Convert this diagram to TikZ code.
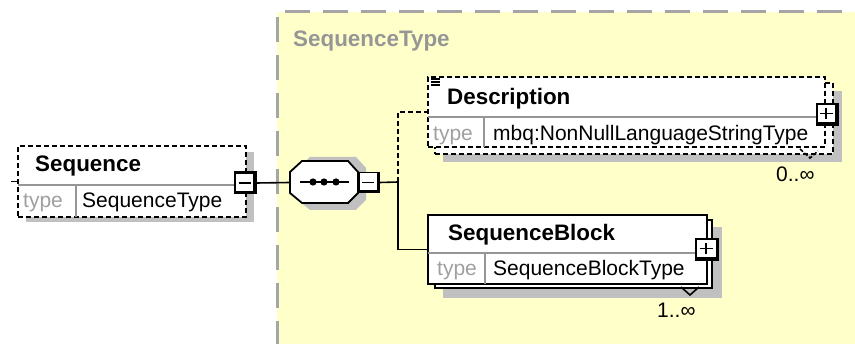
\documentclass[tikz,border=0pt]{standalone}
\usepackage{fontspec}
\setmainfont{Liberation Sans}
\usetikzlibrary{calc}
\definecolor{ybg}{RGB}{255,255,202}
\definecolor{ybord}{RGB}{165,165,165}
\definecolor{shad}{RGB}{192,192,192}
\definecolor{typegray}{RGB}{160,160,160}
\definecolor{titlegray}{RGB}{150,150,150}
\definecolor{divgray}{RGB}{150,150,150}
\begin{document}
\begin{tikzpicture}[x=1pt,y=-1pt,
  reg/.style={font=\fontsize{21}{24}\selectfont, inner sep=0pt, anchor=base west},
  nm/.style={font=\fontsize{22.4}{26}\selectfont\bfseries, inner sep=0pt, anchor=base west},
  typelbl/.style={reg, text=typegray},
  shadowbox/.style={fill=shad},
  dashbox/.style={draw=black, line width=1.8pt, dash pattern=on 5pt off 3pt, fill=white, inner sep=0pt, outer sep=0pt, anchor=north west},
  solidbox/.style={draw=black, line width=1.6pt, fill=white, inner sep=0pt, outer sep=0pt, anchor=north west},
  divider/.style={draw=divgray, line width=1.4pt},
  conn/.style={draw=black, line width=1.6pt},
  dconn/.style={draw=black, line width=1.6pt, dash pattern=on 5pt off 3pt},
  pmouter/.style={fill=black, inner sep=0pt, outer sep=0pt, minimum width=23pt, minimum height=23pt},
  pmsign/.style={draw=black, line width=1.6pt}
]
\useasboundingbox (0,0) rectangle (855,344);
% background type area
\fill[ybg] (277,12) rectangle (857,346);
\draw[ybord, line width=3pt, dash pattern=on 25pt off 13pt] (277,346) -- (277,12) -- (857,12);
\node[nm, text=titlegray] (title) at (293,47) {SequenceType};

% ---------- Sequence element ----------
\fill[shadowbox] (26,152) rectangle (254,222);
\node[dashbox, minimum width=228pt, minimum height=71pt] (seq) at (18,146) {};
\draw[divider] (18,185) -- (246,185);
\draw[divider] (76,185) -- (76,217);
\node[nm] (seqname) at (35,172) {Sequence};
\node[typelbl] (seqtl) at (23,208) {type};
\node[reg] (seqtype) at (82,208) {SequenceType};
\coordinate (seqstub) at (11,181.5);
\draw[conn] (seqstub) -- (seq.west);
\node[pmouter] (seqm) at (245,183) {};
\fill[white] ($(seqm.north west)+(2.5,2.5)$) rectangle ($(seqm.south east)+(-3.5,-3.5)$);
\draw[pmsign] ($(seqm.west)+(5,0)$) -- ($(seqm.east)+(-6,0)$);

% ---------- sequence compositor ----------
\fill[shadowbox] (298,168) -- (310,157) -- (356,157) -- (366,168) -- (366,200) -- (356,210) -- (310,210) -- (298,200) -- cycle;
\draw[fill=white, line width=1.8pt] (290,172) -- (302,161) -- (348,161) -- (358,172) -- (358,193) -- (348,203) -- (302,203) -- (290,193) -- cycle;
\coordinate (octW) at (290,182.5);
\draw[line width=1.8pt] (300,182) -- (349,182);
\foreach \dx in {313,324,336} \fill (\dx,182) circle (3.6pt);
\node[pmouter, minimum width=22pt, minimum height=21pt] (octm) at (369,182.5) {};
\fill[white] ($(octm.north west)+(1.5,1.5)$) rectangle ($(octm.south east)+(-3,-3)$);
\draw[pmsign] ($(octm.west)+(4,0)$) -- ($(octm.east)+(-6,0)$);
\draw[conn] (seqm.east) -- (octW);
\coordinate (J) at (398,182);
\draw[conn] (octm.east) -- (J);

% ---------- Description element (0..unbounded) ----------
\fill[shadowbox] (443,91) rectangle (842,162);
\node[dashbox, minimum width=398pt, minimum height=71pt] (descback) at (435,83) {};
\node[dashbox, minimum width=397pt, minimum height=70pt] (desc) at (428,77) {};
\draw[divider] (428,117) -- (825,117);
\draw[divider] (484,117) -- (484,147);
\draw[line width=1.2pt] (431,79) -- (440,79) (431,82) -- (440,82) (431,85) -- (440,85);
\node[nm] (descname) at (447,105) {Description};
\node[typelbl] (desctl) at (433,141) {type};
\node[reg] (desctype) at (493,141) {mbq:NonNullLanguageStringType};
\draw[line width=1.6pt, dash pattern=on 4pt off 2pt] (800,149) -- (810,158) -- (818,151);
\node[pmouter, minimum width=23pt, minimum height=23pt] (descp) at (827,114.5) {};
\fill[white] ($(descp.north west)+(2,2)$) rectangle ($(descp.south east)+(-3.5,-3.5)$);
\draw[pmsign] ($(descp.west)+(4.5,-1)$) -- ($(descp.east)+(-6,-1)$);
\draw[pmsign] ($(descp.north)+(-1,5)$) -- ($(descp.south)+(-1,-7)$);
\node[reg] (descmult) at (776,182) {0..∞};
\draw[dconn] (J) |- (desc.west);

% ---------- SequenceBlock element (1..unbounded) ----------
\fill[shadowbox] (443,227) rectangle (722,298);
\node[solidbox, minimum width=277pt, minimum height=68pt] (sbback) at (435,220) {};
\node[solidbox, minimum width=279pt, minimum height=69pt] (sb) at (428,215) {};
\draw[divider] (428,253) -- (707,253);
\draw[divider] (485,253) -- (485,284);
\node[nm] (sbname) at (448,241) {SequenceBlock};
\node[typelbl] (sbtl) at (437,276) {type};
\node[reg] (sbtype) at (493,276) {SequenceBlockType};
\draw[line width=1.6pt] (681,287) -- (690,295) -- (699,287);
\node[pmouter, minimum width=24pt, minimum height=23pt] (sbp) at (707,249.5) {};
\fill[white] ($(sbp.north west)+(2,2)$) rectangle ($(sbp.south east)+(-3.5,-3.5)$);
\draw[pmsign] ($(sbp.west)+(4.5,-1)$) -- ($(sbp.east)+(-6,-1)$);
\draw[pmsign] ($(sbp.north)+(-1,5)$) -- ($(sbp.south)+(-1,-7)$);
\node[reg] (sbmult) at (657,318) {1..∞};
\draw[conn] (J) |- (sb.west);
\end{tikzpicture}
\end{document}
